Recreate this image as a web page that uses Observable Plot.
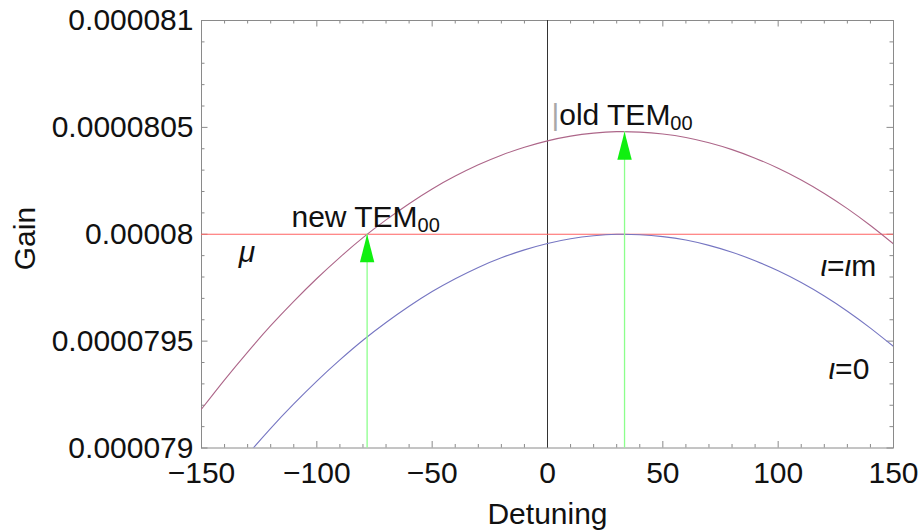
<!DOCTYPE html>
<html>
<head>
<meta charset="utf-8">
<script src="https://cdn.jsdelivr.net/npm/d3@7"></script>
<script src="https://cdn.jsdelivr.net/npm/@observablehq/plot@0.6"></script>
<style>
  html, body { margin: 0; padding: 0; background: #fff; }
  svg { font-family: "Liberation Sans", Arial, sans-serif; }
</style>
</head>
<body>
<div id="chart"></div>
<script>
// Detuning samples and the two gain curves
const detuning = [-150,-140,-130,-120,-110,-100,-90,-80,-70,-60,-50,-40,-30,-20,-10,0,10,20,30,40,50,60,70,80,90,100,110,120,130,140,150];
const gainUpper = [7.9182e-5,7.9319e-5,7.9449e-5,7.9572e-5,7.9686e-5,7.9793e-5,7.9892e-5,7.9984e-5,8.0067e-5,8.0143e-5,8.0212e-5,8.0272e-5,8.0325e-5,8.0370e-5,8.0407e-5,8.0437e-5,8.0459e-5,8.0473e-5,8.0480e-5,8.0478e-5,8.0469e-5,8.0453e-5,8.0428e-5,8.0396e-5,8.0356e-5,8.0309e-5,8.0254e-5,8.0191e-5,8.0120e-5,8.0041e-5,7.9955e-5];
const gainLower = [7.8702e-5,7.8839e-5,7.8969e-5,7.9092e-5,7.9206e-5,7.9313e-5,7.9412e-5,7.9504e-5,7.9587e-5,7.9663e-5,7.9732e-5,7.9792e-5,7.9845e-5,7.9890e-5,7.9927e-5,7.9957e-5,7.9979e-5,7.9993e-5,8.0000e-5,7.9998e-5,7.9989e-5,7.9973e-5,7.9948e-5,7.9916e-5,7.9876e-5,7.9829e-5,7.9774e-5,7.9711e-5,7.9640e-5,7.9561e-5,7.9475e-5];

// Threshold level (mu)
const muLevel = 8.0e-5;

// Arrows marking the TEM00 operating points
const arrowDetuning = [-78.2, 33.4];
const arrowGain = [8.0000e-5, 8.0480e-5];

// Axis ticks and labels
const xDomain = [-150, 150];
const yDomain = [7.9e-5, 8.1e-5];
const xMajor = [-150, -100, -50, 0, 50, 100, 150];
const xMinor = d3.range(-140, 150, 10).filter(v => v % 50 !== 0);
const yMajor = [7.9e-5, 7.95e-5, 8.0e-5, 8.05e-5, 8.1e-5];
const yTickLabels = ["0.000079", "0.0000795", "0.00008", "0.0000805", "0.000081"];
const yMinor = d3.range(1, 20).filter(i => i % 5 !== 0).map(i => 7.9e-5 + i * 1e-7);

// Annotations: pieces are [text, style]
const annotations = [
  {x: -111.0, y: 8.0033e-5, parts: [["new TEM"], ["00", "sub"]]},
  {x: 1.7, y: 8.0509e-5, parts: [["|", "bar"], ["old TEM"], ["00", "sub"]]},
  {x: -133.9, y: 7.9868e-5, parts: [["μ", "it"]]},
  {x: 118.3, y: 7.9807e-5, parts: [["ι", "it"], ["="], ["ι", "it"], ["m"]]},
  {x: 121.8, y: 7.9325e-5, parts: [["ι", "it"], ["="], ["0"]]}
];

// Axis titles, placed in data coordinates
const xTitle = {text: "Detuning", x: 0, y: 7.8646e-5};
const yTitle = {text: "Gain", x: -226.3, y: 7.998e-5};

const W = 922, H = 531;
const mL = 201, mR = 29, mT = 20, mB = 83.5;
const plotW = W - mL - mR, plotH = H - mT - mB;
const frameGray = "#8a8a8a";
const fs = 30;

const curveUpper = detuning.map((x, i) => ({x, y: gainUpper[i]}));
const curveLower = detuning.map((x, i) => ({x, y: gainLower[i]}));
const arrows = arrowDetuning.map((x, i) => ({x, y: arrowGain[i]}));

// Elongated filled arrowhead with its tip at the anchor point
const arrowHead = {
  draw(context) {
    context.moveTo(0, 0);
    context.lineTo(-7.2, 28);
    context.lineTo(7.2, 28);
    context.closePath();
  }
};

const chart = Plot.plot({
  width: W,
  height: H,
  marginLeft: mL,
  marginRight: mR,
  marginTop: mT,
  marginBottom: mB,
  x: {domain: xDomain},
  y: {domain: yDomain},
  marks: [
    // inward ticks on all four sides
    Plot.ruleX(xMajor, {x: d => d, insetTop: plotH - 6.5, stroke: frameGray}),
    Plot.ruleX(xMinor, {x: d => d, insetTop: plotH - 3.5, stroke: frameGray}),
    Plot.ruleX(xMajor, {x: d => d, insetBottom: plotH - 6.5, stroke: frameGray}),
    Plot.ruleX(xMinor, {x: d => d, insetBottom: plotH - 3.5, stroke: frameGray}),
    Plot.ruleY(yMajor, {y: d => d, insetRight: plotW - 6.5, stroke: frameGray}),
    Plot.ruleY(yMinor, {y: d => d, insetRight: plotW - 3.5, stroke: frameGray}),
    Plot.ruleY(yMajor, {y: d => d, insetLeft: plotW - 6.5, stroke: frameGray}),
    Plot.ruleY(yMinor, {y: d => d, insetLeft: plotW - 3.5, stroke: frameGray}),
    Plot.frame({stroke: frameGray}),
    Plot.axisX({ticks: xMajor, tickSize: 0, tickPadding: 14, fontSize: fs, label: null, fill: "#111"}),
    Plot.axisY({ticks: yMajor, tickSize: 0, tickPadding: 8, fontSize: fs, label: null, fill: "#111",
      tickFormat: d => yTickLabels[yMajor.findIndex(v => Math.abs(v - d) < 1e-12)]}),
    // vertical line at zero detuning
    Plot.ruleX([0], {stroke: "#333", strokeWidth: 1}),
    // threshold
    Plot.ruleY([muLevel], {stroke: "#ff6262", strokeWidth: 1.1}),
    // gain curves
    Plot.line(curveUpper, {x: "x", y: "y", stroke: "#ad6689", strokeWidth: 1.1, curve: "natural", clip: true}),
    Plot.line(curveLower, {x: "x", y: "y", stroke: "#7676c2", strokeWidth: 1.1, curve: "natural", clip: true}),
    // arrows: shaft from the bottom of the frame, then the head
    Plot.ruleX(arrows, {x: "x", y1: yDomain[0], y2: "y", stroke: "#8cff8c", strokeWidth: 1.3}),
    Plot.dot(arrows, {x: "x", y: "y", symbol: arrowHead, fill: "#10f010", stroke: null}),
    // annotation text
    Plot.text(annotations, {x: "x", y: "y", text: d => d.parts.map(p => p[0]).join(""),
      textAnchor: "start", lineAnchor: "bottom", fontSize: fs, fill: "#111"}),
    // axis titles
    Plot.text([xTitle], {x: "x", y: "y", text: "text", lineAnchor: "bottom", fontSize: fs, fill: "#111"}),
    Plot.text([yTitle], {x: "x", y: "y", text: "text", rotate: -90, fontSize: fs, fill: "#111"})
  ]
});

// Rich text for the annotations (italic symbols and subscripts)
const textGroups = chart.querySelectorAll('g[aria-label="text"]');
d3.select(textGroups[0]).selectAll("text").each(function(_, i) {
  const a = annotations[i];
  const node = d3.select(this);
  node.text(null);
  let shifted = 0;
  a.parts.forEach(([t, style]) => {
    const span = node.append("tspan").text(t);
    if (style === "sub") {
      span.attr("font-size", 20).attr("dy", 5 - shifted);
      shifted = 5;
    } else if (shifted) {
      span.attr("dy", -shifted);
      shifted = 0;
    }
    if (style === "it") span.attr("font-style", "italic");
    if (style === "bar") span.attr("fill", "#a8a8a8");
  });
});

document.getElementById("chart").appendChild(chart);
</script>
</body>
</html>
